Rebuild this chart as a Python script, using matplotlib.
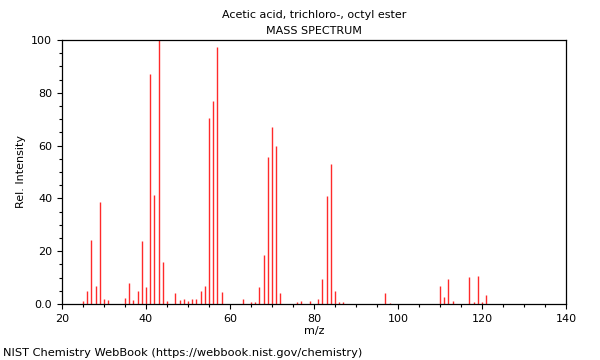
import numpy as np
import matplotlib.pyplot as plt
from matplotlib.ticker import MultipleLocator, FuncFormatter

# m/z peaks and relative intensities
mz = [25, 26, 27, 28, 29, 30, 31, 35, 36, 37, 38, 39, 40, 41, 42, 43, 44, 45,
      47, 48, 49, 50, 51, 52, 53, 54, 55, 56, 57, 58, 63, 65, 66, 67, 68, 69,
      70, 71, 72, 76, 77, 79, 81, 82, 83, 84, 85, 86, 87, 97, 98,
      110, 111, 112, 113, 117, 118, 119, 120, 121]
intensity = [1.0, 4.9, 24.1, 6.9, 38.6, 1.9, 1.5, 2.3, 7.9, 1.5, 4.8, 23.9, 6.3, 87.2, 41.1, 100.0, 16.0, 1.0,
             4.2, 1.5, 2.0, 1.3, 2.0, 1.8, 4.9, 6.9, 70.3, 77.0, 97.3, 4.5, 2.0, 0.8, 0.6, 6.4, 18.4, 55.8,
             67.0, 60.0, 4.0, 0.6, 1.2, 1.2, 2.0, 9.6, 40.9, 53.2, 4.9, 0.7, 0.7, 4.2, 0.5,
             6.7, 2.7, 9.5, 1.1, 10.1, 0.7, 10.5, 0.8, 3.4]

title = "Acetic acid, trichloro-, octyl ester\nMASS SPECTRUM"
footer = "NIST Chemistry WebBook (https://webbook.nist.gov/chemistry)"

fig = plt.figure(figsize=(6, 3.6), dpi=100)
ax = fig.add_axes([0.1033, 0.1556, 0.84, 0.7333])

ax.vlines(mz, 0, intensity, colors='#ff2a2a', linewidth=1)

ax.set_xlim(20, 140)
ax.set_ylim(0, 100)
ax.xaxis.set_major_locator(MultipleLocator(20))
ax.xaxis.set_minor_locator(MultipleLocator(5))
ax.yaxis.set_major_locator(MultipleLocator(20))
ax.yaxis.set_minor_locator(MultipleLocator(5))
ax.yaxis.set_major_formatter(FuncFormatter(lambda v, p: '0.0' if v == 0 else '%d' % v))
ax.tick_params(which='both', direction='out', labelsize=8, width=0.8)
ax.tick_params(which='major', length=3.5)
ax.tick_params(which='minor', length=2)
for s in ax.spines.values():
    s.set_linewidth(0.9)

ax.set_xlabel('m/z', fontsize=8, labelpad=2)
ax.set_ylabel('Rel. Intensity', fontsize=8)
ax.set_title(title, fontsize=8, linespacing=1.75, pad=4)

fig.text(0.005, 0.01, footer, fontsize=8.2)

fig.savefig('out.png', dpi=100)
